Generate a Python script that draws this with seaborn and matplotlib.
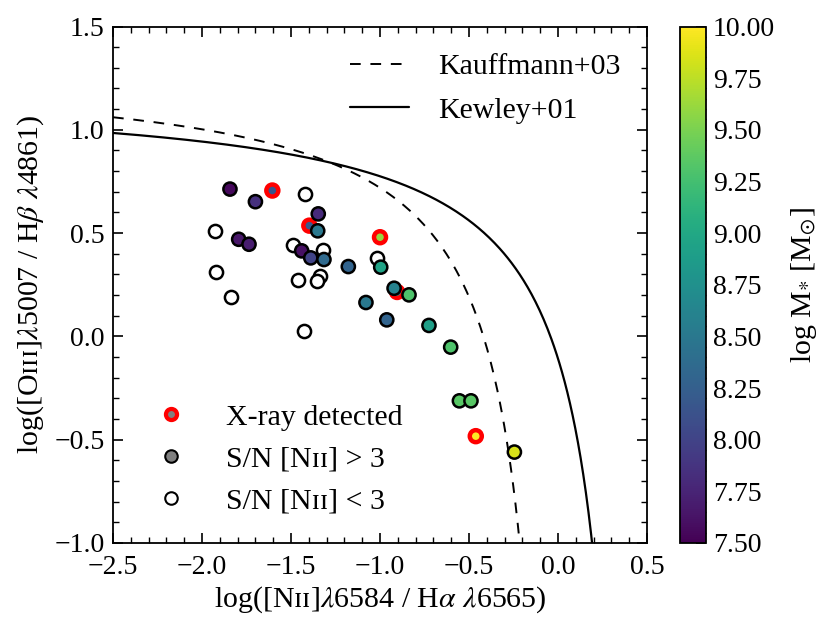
"""
BPT diagram: [OIII]/Hb vs [NII]/Ha, coloured by stellar mass.
"""

import numpy as np
import pandas as pd
import matplotlib
matplotlib.use('Agg')
import matplotlib.pyplot as plt
from matplotlib.lines import Line2D
import seaborn as sns

# --- data ---
# S/N [NII] > 3 (filled, coloured by log M*)
det_n2ha = [-1.843, -1.700, -1.347, -1.350, -1.794, -1.736, -1.440, -1.389,
            -1.315, -1.178, -0.996, -0.921, -0.837, -1.079, -0.962, -0.725,
            -0.603, -0.554, -0.489, -0.245]
det_o3hb = [0.713, 0.652, 0.593, 0.511, 0.470, 0.446, 0.414, 0.380,
            0.372, 0.338, 0.335, 0.233, 0.201, 0.164, 0.080, 0.053,
            -0.052, -0.312, -0.312, -0.560]
det_mass = [7.55, 7.85, 7.80, 8.50, 7.65, 7.70, 7.60, 8.00,
            8.35, 8.30, 8.95, 8.60, 9.30, 8.50, 8.30, 8.90,
            9.30, 9.35, 9.35, 9.85]

# S/N [NII] < 3 (open)
lim_n2ha = [-1.421, -1.925, -1.490, -1.322, -1.920, -1.459, -1.337, -1.352,
            -1.835, -1.429, -1.019]
lim_o3hb = [0.688, 0.512, 0.441, 0.417, 0.312, 0.274, 0.290, 0.267,
            0.190, 0.025, 0.381]

# X-ray detected
xray_n2ha = [-1.605, -1.397, -1.000, -0.904, -0.462]
xray_o3hb = [0.706, 0.536, 0.480, 0.215, -0.483]
xray_mass = [8.15, 8.20, 9.60, 8.70, 10.00]

# demarcation lines: y = a / (x - b) + c
kauffmann = dict(a=0.61, b=0.05, c=1.30)
kewley = dict(a=0.61, b=0.47, c=1.19)

mass_range = (7.5, 10.0)

FS_TICK = 20
FS_TEXT = 21.5

sns.set_style('ticks')
plt.rcParams['font.family'] = ['Liberation Serif', 'DejaVu Serif']
plt.rcParams['mathtext.fontset'] = 'stix'
plt.rcParams['font.size'] = FS_TEXT
plt.rcParams['axes.linewidth'] = 1.3
for key in ('text.color', 'axes.labelcolor', 'axes.edgecolor',
            'xtick.color', 'ytick.color'):
    plt.rcParams[key] = 'black'
for ax_name in ('xtick', 'ytick'):
    plt.rcParams[f'{ax_name}.direction'] = 'in'
    plt.rcParams[f'{ax_name}.major.size'] = 7
    plt.rcParams[f'{ax_name}.minor.size'] = 4
    plt.rcParams[f'{ax_name}.major.width'] = 1.2
    plt.rcParams[f'{ax_name}.minor.width'] = 1.0
    plt.rcParams[f'{ax_name}.labelsize'] = FS_TICK
plt.rcParams['xtick.major.pad'] = 9
plt.rcParams['ytick.major.pad'] = 6

fig = plt.figure(figsize=(8.31, 6.28), dpi=100)
ax = fig.add_axes([0.136, 0.1354, 0.6426, 0.8224])
cax = fig.add_axes([0.818, 0.1354, 0.0313, 0.8224])


def demarcation(x_max, p):
    x = np.linspace(-2.5, x_max, 400)
    return x, p['a'] / (x - p['b']) + p['c']


xk, yk = demarcation(kauffmann['b'] - 0.001, kauffmann)
xw, yw = demarcation(kewley['b'] - 0.001, kewley)
sns.lineplot(x=xk, y=yk, ax=ax, color='k', linestyle=(0, (5.5, 5)), lw=1.4,
             sort=False, label='Kauffmann+03')
sns.lineplot(x=xw, y=yw, ax=ax, color='k', linestyle='-', lw=1.6,
             sort=False, label='Kewley+01')

norm = plt.Normalize(*mass_range)
cmap = plt.get_cmap('viridis')

df_lim = pd.DataFrame({'x': lim_n2ha, 'y': lim_o3hb})
df_xray = pd.DataFrame({'x': xray_n2ha, 'y': xray_o3hb, 'm': xray_mass})
df_det = pd.DataFrame({'x': det_n2ha, 'y': det_o3hb, 'm': det_mass})

sns.scatterplot(data=df_lim, x='x', y='y', ax=ax, s=90, color='white',
                edgecolor='k', linewidth=1.8, legend=False, zorder=3)
sns.scatterplot(data=df_xray, x='x', y='y', hue='m', palette='viridis',
                hue_norm=mass_range, ax=ax, s=75, edgecolor='red',
                linewidth=3.2, legend=False, zorder=4)
sns.scatterplot(data=df_det, x='x', y='y', hue='m', palette='viridis',
                hue_norm=mass_range, ax=ax, s=90, edgecolor='k',
                linewidth=1.8, legend=False, zorder=5)

ax.set_xlim(-2.5, 0.5)
ax.set_ylim(-1.0, 1.5)
ax.set_xticks(np.arange(-2.5, 0.51, 0.5))
ax.set_yticks(np.arange(-1.0, 1.51, 0.5))
ax.minorticks_on()
ax.tick_params(which='both', top=True, right=True)
ax.set_xlabel(r'log([Nɪɪ]$\lambda$6584 / H$\alpha$ $\lambda$6565)',
              fontsize=FS_TEXT, labelpad=3)
ax.set_ylabel(r'log([Oɪɪɪ]$\lambda$5007 / H$\beta$ $\lambda$4861)',
              fontsize=FS_TEXT, labelpad=6)

# line legend (upper right)
leg1 = ax.legend(loc='upper right', frameon=False, fontsize=FS_TEXT,
                 handlelength=2.0, handletextpad=0.95, labelspacing=0.55,
                 borderaxespad=0.5)
ax.add_artist(leg1)

# marker legend (lower left)
handles = [
    Line2D([], [], ls='', marker='o', ms=8, mfc='grey', mec='red', mew=3),
    Line2D([], [], ls='', marker='o', ms=9, mfc='grey', mec='k', mew=1.5),
    Line2D([], [], ls='', marker='o', ms=9, mfc='white', mec='k', mew=1.5),
]
labels = ['X-ray detected', 'S/N [Nɪɪ] > 3', 'S/N [Nɪɪ] < 3']
ax.legend(handles, labels, loc='lower left', frameon=False, fontsize=FS_TEXT,
          handlelength=2.0, handletextpad=0.85, labelspacing=0.5,
          borderaxespad=0.55)

sm = plt.cm.ScalarMappable(norm=norm, cmap=cmap)
cb = fig.colorbar(sm, cax=cax)
cb.set_ticks(np.arange(7.5, 10.01, 0.25))
cb.ax.yaxis.set_major_formatter(matplotlib.ticker.FormatStrFormatter('%.2f'))
cb.ax.minorticks_on()
cb.ax.tick_params(which='both', direction='in', labelsize=FS_TICK, pad=5)
cb.outline.set_linewidth(1.3)
cb.set_label(r'log M$_{*}$ [M$_{\odot}$]', fontsize=FS_TEXT, labelpad=10)

fig.savefig('out.png', dpi=100)
